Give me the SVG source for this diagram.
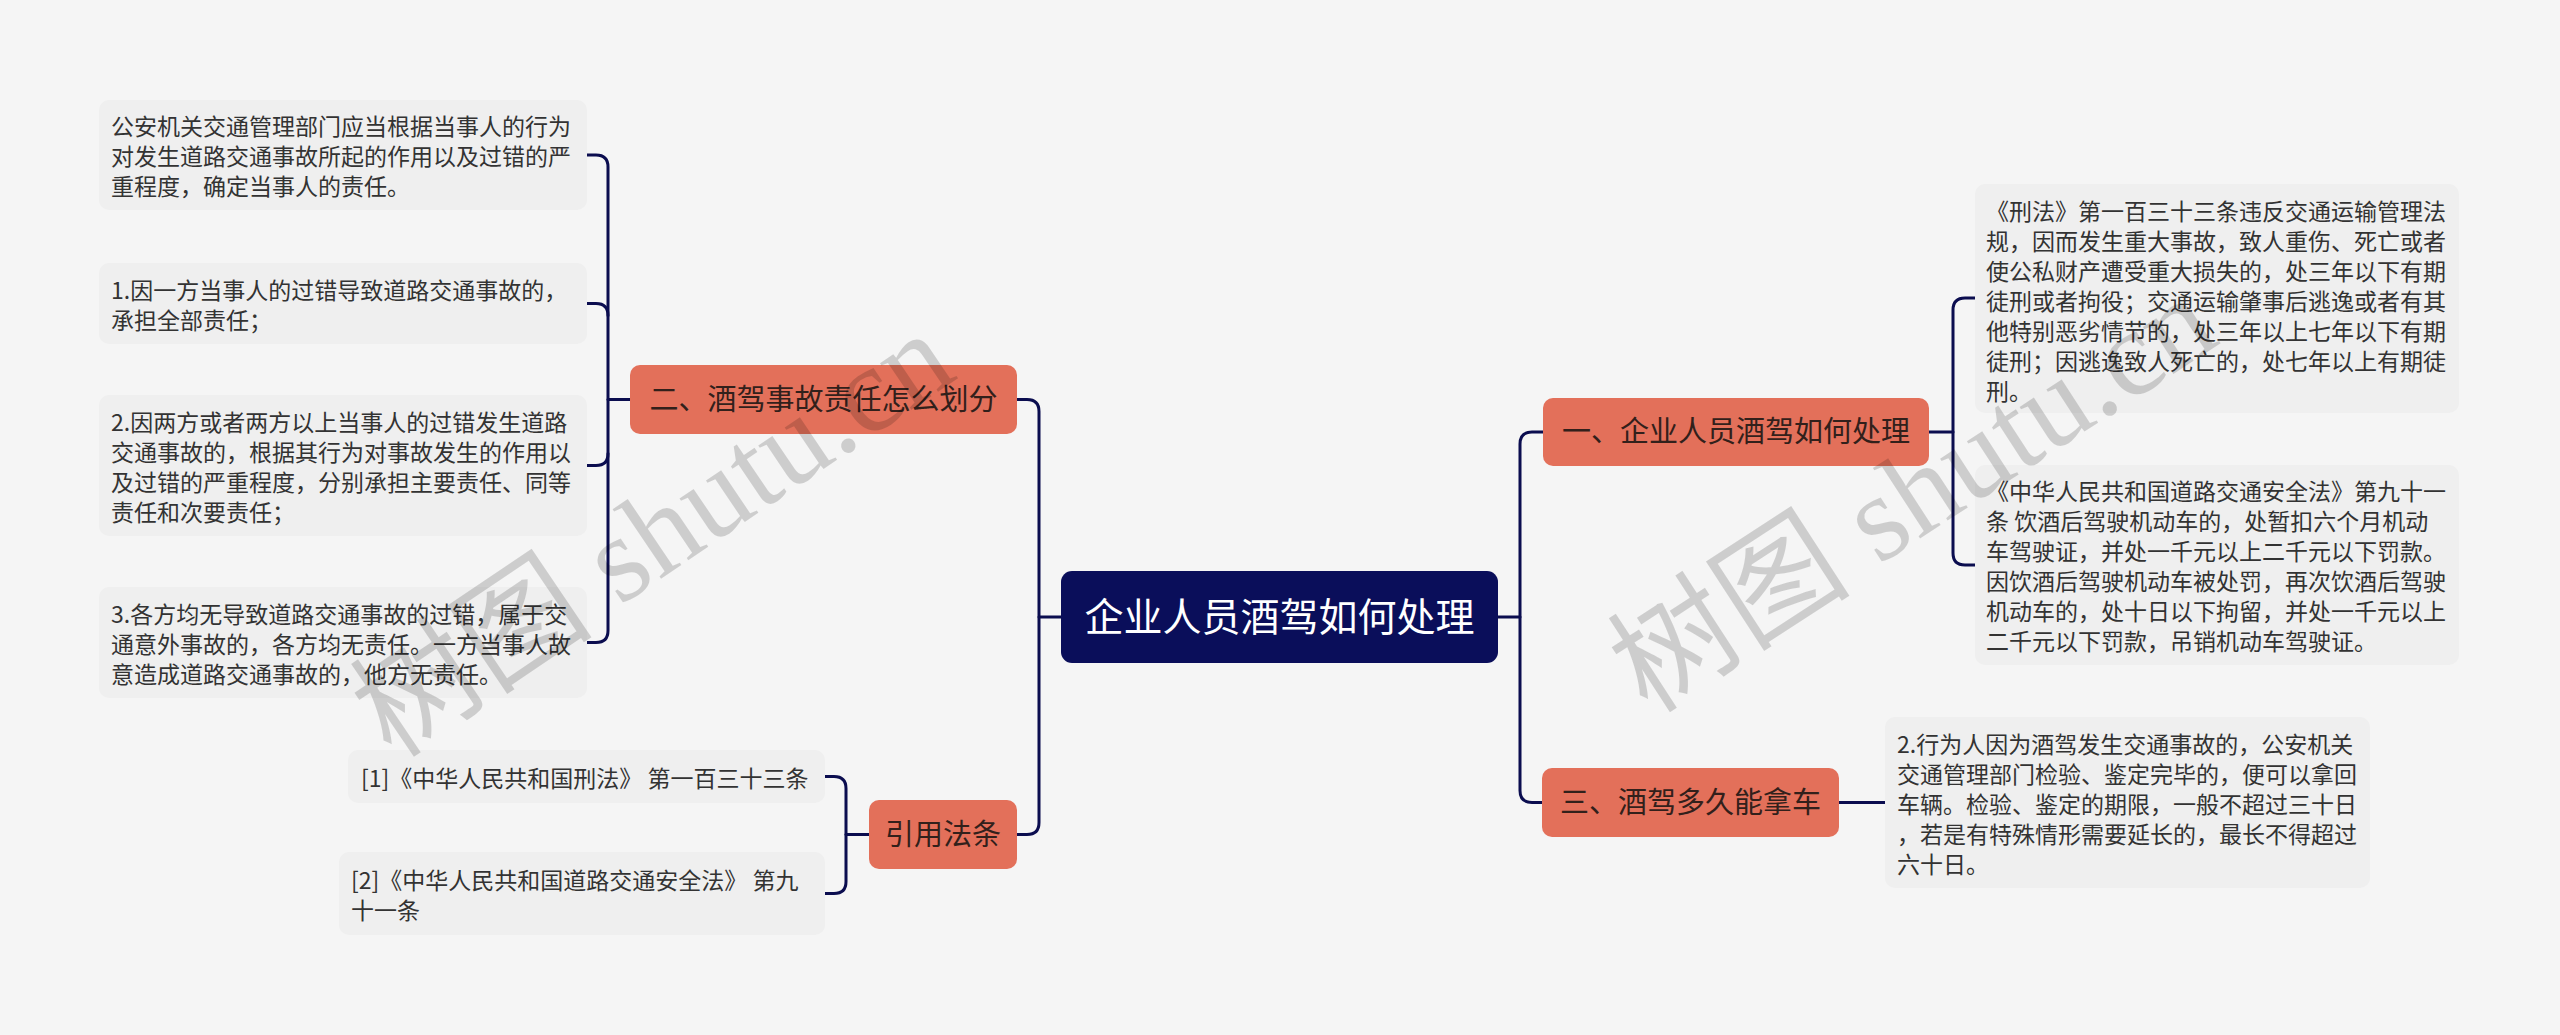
<svg xmlns="http://www.w3.org/2000/svg" width="2560" height="1035" viewBox="0 0 2560 1035">
<style>
.bg{fill:#f5f5f5}
.leaf rect{fill:#efefef}
.leaf text{font-family:"Noto Sans CJK SC","Liberation Sans",sans-serif;font-size:23px;fill:#333333}
.branch rect{fill:#e3705a}
.branch text{font-family:"Noto Sans CJK SC","Liberation Sans",sans-serif;font-size:29px;fill:#32201b;text-anchor:middle}
.root rect{fill:#0a0e5a}
.root text{font-family:"Noto Sans CJK SC","Liberation Sans",sans-serif;font-size:39px;fill:#ffffff;text-anchor:middle}
.conn path{fill:none;stroke:#0b0d4f;stroke-width:3;stroke-linecap:round}
.wm{font-family:"Liberation Serif","Noto Sans CJK SC",serif;font-size:122px;fill:#000000;fill-opacity:0.16}
</style>
<rect class="bg" x="0" y="0" width="2560" height="1035"/>

<g id="connectors" class="conn">
  <path d="M1061,617 H1039"/>
  <path d="M1017,399.5 H1027 Q1039,399.5 1039,411.5 V822.5 Q1039,834.5 1027,834.5 H1017"/>
  <path d="M1498,617 H1520"/>
  <path d="M1543,432 H1532 Q1520,432 1520,444 V790.5 Q1520,802.5 1532,802.5 H1542"/>
  <path d="M630,399.5 H608"/>
  <path d="M587,155 H596 Q608,155 608,167 V630.5 Q608,642.5 596,642.5 H587"/>
  <path d="M587,303.5 H596 Q608,303.5 608,315.5"/>
  <path d="M587,465.5 H596 Q608,465.5 608,453.5"/>
  <path d="M869,834.5 H846"/>
  <path d="M825,776.5 H834 Q846,776.5 846,788.5 V881.5 Q846,893.5 834,893.5 H825"/>
  <path d="M1929,432 H1953"/>
  <path d="M1975,298 H1965 Q1953,298 1953,310 V553 Q1953,565 1965,565 H1975"/>
  <path d="M1839,802.5 H1885"/>
</g>

<g id="root" class="root">
  <rect x="1061" y="571" width="437" height="92" rx="11"/>
  <text x="1279.5" y="631">企业人员酒驾如何处理</text>
</g>

<g id="branch1" class="branch">
  <rect x="1543" y="398" width="386" height="68" rx="10"/>
  <text x="1736" y="442">一、企业人员酒驾如何处理</text>
</g>
<g id="branch2" class="branch">
  <rect x="630" y="365" width="387" height="69" rx="10"/>
  <text x="823.5" y="409.5">二、酒驾事故责任怎么划分</text>
</g>
<g id="branch3" class="branch">
  <rect x="1542" y="768" width="297" height="69" rx="10"/>
  <text x="1690.5" y="812.5">三、酒驾多久能拿车</text>
</g>
<g id="branch4" class="branch">
  <rect x="869" y="800" width="148" height="69" rx="10"/>
  <text x="943" y="844.5">引用法条</text>
</g>

<g id="leaf-l1" class="leaf">
  <rect x="99" y="100" width="488" height="110" rx="10"/>
  <text x="111" y="135">公安机关交通管理部门应当根据当事人的行为</text>
  <text x="111" y="165">对发生道路交通事故所起的作用以及过错的严</text>
  <text x="111" y="195">重程度，确定当事人的责任。</text>
</g>
<g id="leaf-l2" class="leaf">
  <rect x="99" y="263" width="488" height="81" rx="10"/>
  <text x="111" y="298.5">1.因一方当事人的过错导致道路交通事故的，</text>
  <text x="111" y="328.5">承担全部责任；</text>
</g>
<g id="leaf-l3" class="leaf">
  <rect x="99" y="395" width="488" height="141" rx="10"/>
  <text x="111" y="430.5">2.因两方或者两方以上当事人的过错发生道路</text>
  <text x="111" y="460.5">交通事故的，根据其行为对事故发生的作用以</text>
  <text x="111" y="490.5">及过错的严重程度，分别承担主要责任、同等</text>
  <text x="111" y="520.5">责任和次要责任；</text>
</g>
<g id="leaf-l4" class="leaf">
  <rect x="99" y="587" width="488" height="111" rx="10"/>
  <text x="111" y="622.5">3.各方均无导致道路交通事故的过错，属于交</text>
  <text x="111" y="652.5">通意外事故的，各方均无责任。一方当事人故</text>
  <text x="111" y="682.5">意造成道路交通事故的，他方无责任。</text>
</g>
<g id="leaf-c1" class="leaf">
  <rect x="348" y="750" width="477" height="53" rx="10"/>
  <text x="361" y="786.5">[1]《中华人民共和国刑法》 第一百三十三条</text>
</g>
<g id="leaf-c2" class="leaf">
  <rect x="339" y="852" width="486" height="83" rx="10"/>
  <text x="351" y="888.5">[2]《中华人民共和国道路交通安全法》 第九</text>
  <text x="351" y="918.5">十一条</text>
</g>
<g id="leaf-r1" class="leaf">
  <rect x="1975" y="184" width="484" height="229" rx="10"/>
  <text x="1986" y="220">《刑法》第一百三十三条违反交通运输管理法</text>
  <text x="1986" y="250">规，因而发生重大事故，致人重伤、死亡或者</text>
  <text x="1986" y="280">使公私财产遭受重大损失的，处三年以下有期</text>
  <text x="1986" y="310">徒刑或者拘役；交通运输肇事后逃逸或者有其</text>
  <text x="1986" y="340">他特别恶劣情节的，处三年以上七年以下有期</text>
  <text x="1986" y="370">徒刑；因逃逸致人死亡的，处七年以上有期徒</text>
  <text x="1986" y="400">刑。</text>
</g>
<g id="leaf-r2" class="leaf">
  <rect x="1975" y="465" width="484" height="200" rx="10"/>
  <text x="1986" y="500">《中华人民共和国道路交通安全法》第九十一</text>
  <text x="1986" y="530">条 饮酒后驾驶机动车的，处暂扣六个月机动</text>
  <text x="1986" y="560">车驾驶证，并处一千元以上二千元以下罚款。</text>
  <text x="1986" y="590">因饮酒后驾驶机动车被处罚，再次饮酒后驾驶</text>
  <text x="1986" y="620">机动车的，处十日以下拘留，并处一千元以上</text>
  <text x="1986" y="650">二千元以下罚款，吊销机动车驾驶证。</text>
</g>
<g id="leaf-r3" class="leaf">
  <rect x="1885" y="717" width="485" height="171" rx="10"/>
  <text x="1897" y="752.5">2.行为人因为酒驾发生交通事故的，公安机关</text>
  <text x="1897" y="782.5">交通管理部门检验、鉴定完毕的，便可以拿回</text>
  <text x="1897" y="812.5">车辆。检验、鉴定的期限，一般不超过三十日</text>
  <text x="1897" y="842.5">，若是有特殊情形需要延长的，最长不得超过</text>
  <text x="1897" y="872.5">六十日。</text>
</g>

<text class="wm" transform="translate(392,760) rotate(-34)">树图 shutu.cn</text>
<text class="wm" transform="translate(1648,715) rotate(-33)">树图 shutu.cn</text>
</svg>
